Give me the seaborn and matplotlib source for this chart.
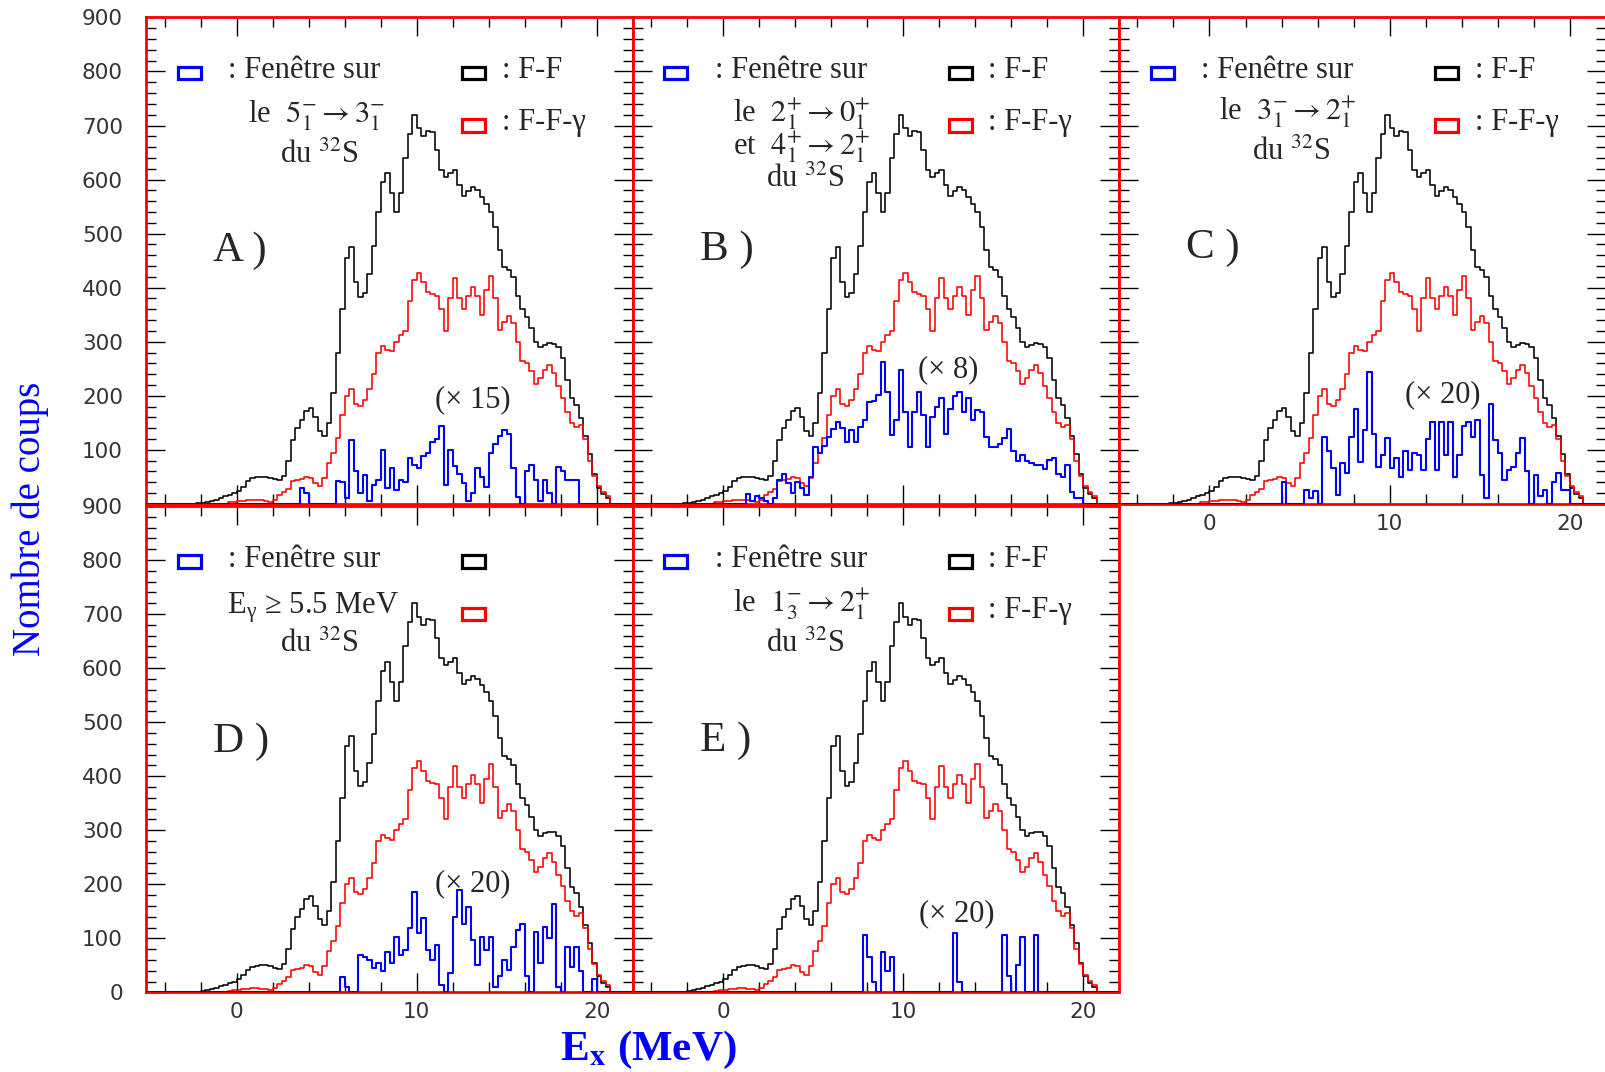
import numpy as np
import pandas as pd
import matplotlib
matplotlib.use("Agg")
import matplotlib.pyplot as plt
from matplotlib.patches import Rectangle
from matplotlib.ticker import MultipleLocator, FixedLocator
import seaborn as sns

# ---------------- data (counts per 0.25 MeV bin) ----------------
BIN = 0.25
FF_START = -2.5          # F-F spectrum (black)
FF = [0, 1, 2, 4, 6, 8, 11, 14, 17, 20,
      24, 32, 42, 47, 49, 50, 50, 48, 46, 44,
      52, 80, 118, 140, 155, 172, 178, 160, 135, 125,
      150, 205, 280, 360, 455, 475, 410, 382, 390, 425,
      478, 540, 595, 612, 575, 540, 575, 640, 685, 720,
      695, 680, 690, 688, 655, 618, 605, 612, 618, 590,
      570, 578, 586, 580, 568, 555, 540, 512, 470, 438,
      432, 420, 385, 360, 346, 325, 300, 290, 294, 297,
      296, 290, 270, 230, 195, 183, 158, 125, 92, 55,
      30, 18, 10, 0]
FFG_START = -2.5         # F-F-gamma spectrum (red)
FFG = [0, 0, 0, 0, 0, 0, 0, 0, 3, 4,
       5, 6, 7, 8, 8, 7, 6, 4, 8, 16,
       22, 28, 42, 44, 46, 50, 48, 38, 33, 48,
       76, 95, 122, 165, 200, 212, 185, 182, 192, 212,
       240, 280, 292, 285, 282, 300, 312, 320, 375, 415,
       428, 410, 392, 388, 385, 360, 320, 380, 418, 380,
       360, 385, 402, 385, 350, 395, 422, 380, 322, 336,
       348, 335, 300, 265, 260, 245, 222, 232, 248, 257,
       242, 218, 196, 170, 150, 142, 146, 120, 80, 52,
       33, 22, 14, 0]
# gated spectra (blue), already multiplied by the factor written in each panel
BLUE_A_START = 3.5
BLUE_A = [30, 20, 0, 0, 0, 0, 0, 0, 43, 40,
          10, 118, 60, 20, 53, 5, 35, 45, 100, 30,
          66, 25, 44, 40, 85, 72, 66, 88, 95, 115,
          120, 145, 35, 100, 70, 55, 38, 5, 20, 66,
          50, 32, 95, 110, 125, 137, 130, 66, 13, 0,
          60, 72, 44, 5, 44, 20, 0, 69, 60, 44,
          44, 44, 0]
BLUE_B_START = 1.25
BLUE_B = [18, 5, 14, 10, 5, 0, 10, 44, 56, 38,
          20, 41, 30, 17, 50, 106, 94, 108, 124, 139,
          151, 140, 115, 136, 115, 142, 155, 189, 190, 201,
          262, 207, 127, 155, 247, 170, 106, 170, 207, 164,
          106, 160, 180, 195, 130, 176, 200, 207, 170, 195,
          155, 173, 170, 124, 106, 106, 110, 121, 139, 97,
          79, 91, 80, 75, 72, 72, 65, 81, 84, 56,
          50, 72, 22, 10, 10, 0]
BLUE_C_START = 3.75
BLUE_C = [0, 41, 0, 0, 0, 0, 26, 10, 23, 0,
          124, 98, 66, 17, 75, 57, 124, 176, 78, 136,
          244, 130, 69, 90, 121, 66, 84, 50, 97, 62,
          94, 90, 63, 120, 151, 63, 151, 90, 151, 50,
          90, 145, 151, 124, 155, 53, 10, 185, 118, 94,
          44, 62, 69, 95, 121, 60, 0, 53, 15, 26,
          0, 40, 57, 26, 26, 0]
BLUE_D_START = 5.75
BLUE_D = [28, 10, 0, 0, 69, 66, 60, 45, 55, 39,
          75, 54, 103, 70, 79, 120, 186, 110, 137, 79,
          60, 88, 14, 0, 35, 140, 189, 127, 158, 97,
          50, 103, 78, 103, 10, 30, 60, 41, 84, 115,
          127, 30, 0, 112, 54, 121, 100, 164, 10, 0,
          84, 47, 84, 40, 0, 0, 25, 0]
BLUE_E_START = 7.75
BLUE_E = [106, 65, 20, 0, 75, 40, 65, 0, 0, 0,
          0, 0, 0, 0, 0, 0, 0, 0, 0, 0,
          110, 20, 0, 0, 0, 0, 0, 0, 0, 0,
          0, 106, 30, 0, 50, 103, 0, 0, 106, 0]

PANEL_NAMES = ["A )", "B )", "C )", "D )", "E )"]
FACTORS = ["(× 15)", "(× 8)", "(× 20)", "(× 20)", "(× 20)"]
GATE_TEXT = [
    [r"le  $5_1^{-} \rightarrow 3_1^{-}$", r"du $^{32}$S"],
    [r"le  $2_1^{+} \rightarrow 0_1^{+}$", r"et  $4_1^{+} \rightarrow 2_1^{+}$", r"du $^{32}$S"],
    [r"le  $3_1^{-} \rightarrow 2_1^{+}$", r"du $^{32}$S"],
    [r"E$_{\mathregular{γ}}$ ≥ 5.5 MeV", r"du $^{32}$S"],
    [r"le  $1_3^{-} \rightarrow 2_1^{+}$", r"du $^{32}$S"],
]
LEG_FENETRE = ": Fenêtre sur"
LEG_FF = ": F-F"
LEG_FFG = ": F-F-γ"
Y_TICKS = [0, 100, 200, 300, 400, 500, 600, 700, 800, 900]
X_TICKS = [0, 10, 20]
YLABEL = "Nombre de coups"
XLABEL = r"E$_{\mathbf{x}}$ (MeV)"

# ---------------- style ----------------
sns.set_theme(style="ticks")
plt.rcParams["font.family"] = ["Liberation Serif", "DejaVu Serif"]
plt.rcParams["mathtext.fontset"] = "stix"

XMIN, XMAX = -5.0, 22.0
edges = np.arange(XMIN, XMAX + BIN / 2, BIN)
centers = edges[:-1] + BIN / 2


def on_grid(start, vals):
    out = np.zeros(len(centers))
    i0 = int(round((start - XMIN) / BIN))
    out[i0:i0 + len(vals)] = vals
    return out


ff = on_grid(FF_START, FF)
ffg = on_grid(FFG_START, FFG)
blues = [on_grid(BLUE_A_START, BLUE_A), on_grid(BLUE_B_START, BLUE_B),
         on_grid(BLUE_C_START, BLUE_C), on_grid(BLUE_D_START, BLUE_D),
         on_grid(BLUE_E_START, BLUE_E)]

fig = plt.figure(figsize=(16.06, 10.72), dpi=100)
W, H = 486.5 / 1606, 486.5 / 1072
lefts = [146.5 / 1606, 633.0 / 1606, 1119.4 / 1606]
bottoms = [1 - 503.9 / 1072, 1 - 992.4 / 1072]
slots = [(0, 0), (0, 1), (0, 2), (1, 0), (1, 1)]

gate_pos = [
    [(0.209, 0.784), (0.274, 0.701)],
    [(0.206, 0.786), (0.206, 0.719), (0.273, 0.652)],
    [(0.205, 0.789), (0.272, 0.707)],
    [(0.166, 0.778), (0.274, 0.699)],
    [(0.206, 0.782), (0.273, 0.700)],
]
factor_pos = [(0.671, 0.198), (0.648, 0.261), (0.664, 0.210), (0.671, 0.209), (0.665, 0.146)]
name_y = [0.499, 0.501, 0.505, 0.495, 0.497]


def hist(ax, vals, color, lw, z):
    # step outline of a histogram: one point per bin edge
    df = pd.DataFrame({"E": edges, "counts": np.append(vals, vals[-1])})
    sns.lineplot(data=df, x="E", y="counts", estimator=None, sort=False,
                 drawstyle="steps-post", color=color, linewidth=lw, ax=ax, zorder=z)


for k, (r, c) in enumerate(slots):
    ax = fig.add_axes([lefts[c], bottoms[r], W, H])
    ax.set_facecolor("white")
    hist(ax, ff, "black", 1.15, 2.0)
    hist(ax, ffg, "#ff0000", 1.15, 2.1)
    hist(ax, blues[k], "#0000ff", 1.5, 3.0)
    ax.set_xlim(XMIN, XMAX)
    ax.set_ylim(0, 900)
    ax.set_xlabel("")
    ax.set_ylabel("")

    ax.xaxis.set_major_locator(FixedLocator(X_TICKS))
    ax.xaxis.set_minor_locator(MultipleLocator(2))
    ax.yaxis.set_major_locator(FixedLocator(Y_TICKS))
    ax.yaxis.set_minor_locator(MultipleLocator(20))
    ax.tick_params(which="both", direction="in", top=True, right=True,
                   color="black", width=1.0)
    ax.tick_params(axis="x", which="major", length=14, pad=7)
    ax.tick_params(axis="x", which="minor", length=7)
    ax.tick_params(axis="y", which="major", length=14, pad=17)
    ax.tick_params(axis="y", which="minor", length=7)

    if c == 0:
        labels = [str(v) for v in Y_TICKS]
        if r == 0:
            labels[0] = ""
        ax.set_yticks(Y_TICKS)
        ax.set_yticklabels(labels, fontfamily="DejaVu Sans", fontsize=15.5, color="#333333")
    else:
        ax.set_yticklabels([])
    if r == 1 or c == 2:
        ax.set_xticks(X_TICKS)
        ax.set_xticklabels([str(v) for v in X_TICKS], fontfamily="DejaVu Sans",
                           fontsize=15.5, color="#333333")
    else:
        ax.set_xticklabels([])

    for s in ax.spines.values():
        s.set_color("#ff0000")
        s.set_linewidth(2.0)
        s.set_zorder(2.6)

    # legend keys
    rw, rh = 0.047, 0.026
    for (cx, cy, col) in [(0.088, 0.886, "#0000ff"), (0.673, 0.886, "black"),
                          (0.673, 0.778, "#ff0000")]:
        ax.add_patch(Rectangle((cx - rw / 2, cy - rh / 2), rw, rh, transform=ax.transAxes,
                               fill=False, edgecolor=col, linewidth=2.3, zorder=5))
    ax.text(0.168, 0.875, LEG_FENETRE, transform=ax.transAxes, fontsize=22,
            ha="left", va="baseline")
    if k != 3:
        ax.text(0.730, 0.875, LEG_FF, transform=ax.transAxes, fontsize=22,
                ha="left", va="baseline")
        ax.text(0.730, 0.769, LEG_FFG, transform=ax.transAxes, fontsize=22,
                ha="left", va="baseline")
    for txt, (tx, ty) in zip(GATE_TEXT[k], gate_pos[k]):
        ax.text(tx, ty, txt, transform=ax.transAxes, fontsize=22, ha="left", va="baseline")
    ax.text(0.137, name_y[k], PANEL_NAMES[k], transform=ax.transAxes, fontsize=31,
            ha="left", va="baseline")
    fx, fy = factor_pos[k]
    ax.text(fx, fy, FACTORS[k], transform=ax.transAxes, fontsize=22,
            ha="center", va="baseline")

fig.text(0.0191, 0.516, YLABEL, rotation=90, ha="center", va="center",
         fontsize=28, color="#0000ff")
fig.text(0.349, 0.011, XLABEL, ha="left", va="baseline", fontsize=31,
         fontweight="bold", color="#0000ff")

fig.savefig("out.png", dpi=100, facecolor="white")
